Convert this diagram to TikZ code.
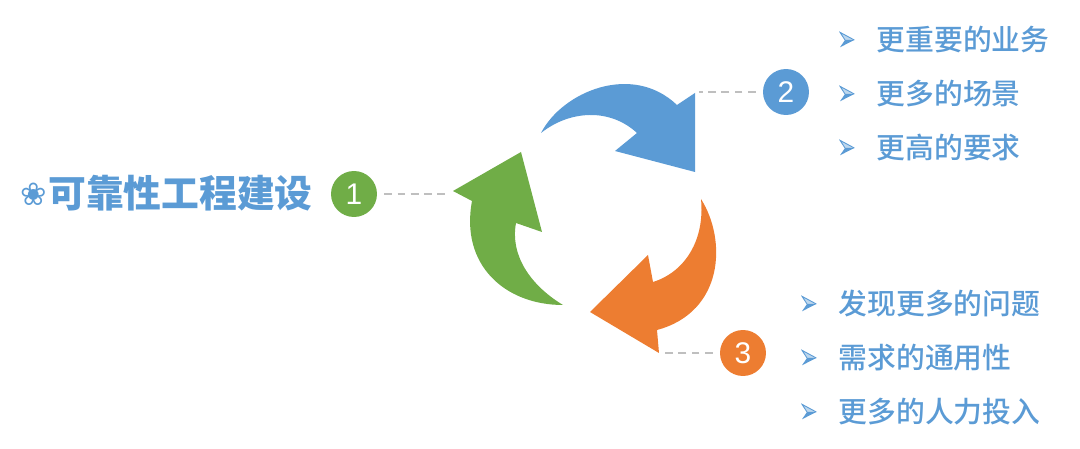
\documentclass[tikz,border=0pt]{standalone}
\usepackage{fontspec}
\usepackage{tikz}
\usetikzlibrary{positioning}
\newfontfamily\cjk{Noto Sans CJK SC Medium}
\newfontfamily\cjkb{Noto Sans CJK SC}
\newfontfamily\symb{DejaVu Sans}
\setsansfont{Liberation Sans}
\definecolor{myblue}{HTML}{5B9BD5}
\definecolor{mygreen}{HTML}{70AD47}
\definecolor{myorange}{HTML}{ED7D31}
\definecolor{mygray}{HTML}{BFBFBF}

\begin{document}
\begin{tikzpicture}[
    x=0.02cm, y=-0.02cm,
    node distance=0.4cm and 0.42cm,
    badge/.style={circle, inner sep=0pt, minimum size=0.92cm, text=white, font=\sffamily\fontsize{17}{17}\selectfont},
    item/.style={inner sep=0pt, text=myblue, font=\cjk\fontsize{16.4}{16.4}\selectfont},
    bul/.style={inner sep=0pt, minimum size=0.32cm, path picture={
        \fill[myblue!40] (7.3,0) -- (-7,-7.7) -- (-2,0) -- cycle;
        \fill[myblue] (7.3,0) -- (-7,7.3) -- (-2,0) -- cycle;
        \draw[myblue, line width=0.5pt] (7.3,0) -- (-7,-7.7) -- (-2,0);}},
    title/.style={inner sep=0pt, text=myblue, font=\cjkb\bfseries\fontsize{21.5}{21.5}\selectfont},
    lnk/.style={mygray, thick, dash pattern=on 4.5pt off 3pt, shorten <=4pt, shorten >=2pt}
]
\useasboundingbox (0,0) rectangle (1080,449);
% arrows
\fill[myblue] (541,133) .. controls (562,92) and (632,62) .. (677,105) -- (695,93) -- (695,172) -- (615,151) -- (637,133) .. controls (610,108) and (570,110) .. (541,133) -- cycle;
\fill[mygreen] (563,305) .. controls (505,305) and (460,265) .. (472,201) -- (453,191) -- (521,152) -- (542,232) -- (516,223) .. controls (510,255) and (530,285) .. (563,305) -- cycle;
\fill[myorange] (701,199) .. controls (727,240) and (724,312) .. (657,330) -- (659,353) -- (590,312) -- (648,255) -- (653,282) .. controls (685,272) and (705,240) .. (701,199) -- cycle;
\coordinate (tipone) at (453,194);
\coordinate (tiptwo) at (695,92);
\coordinate (tipthree) at (659,353);
% badges
\node[badge, fill=mygreen] (one) at (354,194) {1};
\node[badge, fill=myblue] (two) at (786,92) {2};
\node[badge, fill=myorange] (three) at (743,353) {3};
\draw[lnk] (one) -- (tipone);
\draw[lnk] (two) -- (tiptwo);
\draw[lnk] (three) -- (tipthree);
% left title
\node[inner sep=0pt, text=myblue, font=\symb\fontsize{18}{18}\selectfont] (flower) at (34,194) {❀};
\node[title, anchor=west] (rel) at (48,193) {可靠性工程建设};
% upper list
\node[bul] (ba) at (847,40) {};
\node[bul] (bb) at (847,94) {};
\node[bul] (bc) at (847,148) {};
\node[item, right=0.42cm of ba] (ta) {更重要的业务};
\node[item, right=0.42cm of bb] (tb) {更多的场景};
\node[item, right=0.42cm of bc] (tc) {更高的要求};
% lower list
\node[bul] (bd) at (809,304) {};
\node[bul] (be) at (809,358) {};
\node[bul] (bf) at (809,412) {};
\node[item, right=0.42cm of bd] (td) {发现更多的问题};
\node[item, right=0.42cm of be] (te) {需求的通用性};
\node[item, right=0.42cm of bf] (tf) {更多的人力投入};
\end{tikzpicture}
\end{document}
